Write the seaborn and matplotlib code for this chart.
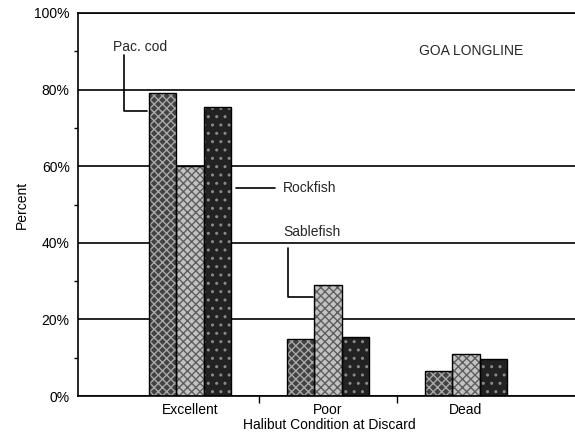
import matplotlib
matplotlib.use("Agg")
import matplotlib.pyplot as plt
import seaborn as sns
import pandas as pd
from matplotlib.ticker import FixedLocator, PercentFormatter

# Halibut discard condition by target fishery, GOA longline
conditions = ["Excellent", "Poor", "Dead"]
species = ["Pac. cod", "Sablefish", "Rockfish"]
pac_cod = [79.0, 15.0, 6.5]
sablefish = [60.0, 29.0, 11.0]
rockfish = [75.5, 15.3, 9.7]

df = pd.DataFrame({
    "Condition": conditions * 3,
    "Species": [s for s in species for _ in conditions],
    "Percent": pac_cod + sablefish + rockfish,
})

sns.set_theme(style="white")
plt.rcParams["font.family"] = ["Liberation Sans", "DejaVu Sans"]
plt.rcParams["hatch.linewidth"] = 1.0

fig = plt.figure(figsize=(5.75, 4.43), dpi=100)
ax = fig.add_axes([78 / 575, 47 / 443, 497 / 575, 383 / 443])

face = {"Pac. cod": "#424242", "Sablefish": "#c2c2c2", "Rockfish": "#222222"}
hatch_style = {"Pac. cod": ("xxxx", "#a8a8a8"),
               "Sablefish": ("xxxx", "#5e5e5e"),
               "Rockfish": ("..", "#8a8a8a")}

sns.barplot(data=df, x="Condition", y="Percent", hue="Species",
            order=conditions, hue_order=species, palette=face,
            width=0.6, saturation=1, linewidth=0, errorbar=None,
            legend=False, ax=ax, zorder=2)

for sp, cont in zip(species, ax.containers):
    pattern, hcol = hatch_style[sp]
    for bar in cont:
        bar.set_hatch(pattern)
        bar.set_edgecolor(hcol)
        bar.set_linewidth(0)

# black outlines on top of the patterned bars
sns.barplot(data=df, x="Condition", y="Percent", hue="Species",
            order=conditions, hue_order=species,
            palette={s: "black" for s in species}, fill=False,
            width=0.6, linewidth=1.0, errorbar=None,
            legend=False, ax=ax, zorder=3)

ax.set_xlim(-0.812, 2.79)
ax.set_ylim(0, 100)

for side in ["left", "bottom", "top"]:
    ax.spines[side].set_visible(True)
    ax.spines[side].set_color("black")
    ax.spines[side].set_linewidth(1.2)
ax.spines["right"].set_visible(False)

ax.yaxis.set_major_locator(FixedLocator([0, 20, 40, 60, 80, 100]))
ax.yaxis.set_minor_locator(FixedLocator([10, 30, 50, 70, 90]))
ax.yaxis.set_major_formatter(PercentFormatter(decimals=0))
ax.yaxis.grid(True, which="major", color="black", linewidth=1.2)
ax.set_axisbelow(True)

ax.xaxis.set_minor_locator(FixedLocator([0.5, 1.5]))
ax.tick_params(axis="y", which="major", direction="out", length=5,
               width=1, color="black", labelsize=10, pad=1)
ax.tick_params(axis="y", which="minor", direction="out", length=3,
               width=1, color="black", left=True)
ax.tick_params(axis="x", which="major", length=0, labelsize=10, pad=5)
ax.tick_params(axis="x", which="minor", direction="out", length=5,
               width=1, color="black", bottom=True)
for lab in ax.get_xticklabels() + ax.get_yticklabels():
    lab.set_color("black")

ax.set_xlabel("Halibut Condition at Discard", fontsize=10, color="black")
ax.set_ylabel("Percent", fontsize=10, color="black")
ax.xaxis.set_label_coords(0.505, -0.057)
ax.yaxis.set_label_coords(-0.113, 0.5)
ax.yaxis.label.set_va("center")

# callouts naming each fishery
kw = dict(color="black", linewidth=1.2, clip_on=False, zorder=4)
cod_bar = ax.containers[0][0]
ax.plot([-0.478, -0.478, cod_bar.get_x() - 0.015], [89.0, 74.4, 74.4], **kw)
ax.text(-0.558, 91.1, "Pac. cod", fontsize=10, va="center", ha="left")

rock_bar = ax.containers[2][0]
ax.plot([rock_bar.get_x() + rock_bar.get_width() + 0.03, 0.616], [54.3, 54.3], **kw)
ax.text(0.674, 54.3, "Rockfish", fontsize=10, va="center", ha="left")

sable_bar = ax.containers[1][1]
ax.plot([0.71, 0.71, sable_bar.get_x() - 0.01], [38.6, 25.8, 25.8], **kw)
ax.text(0.674, 42.8, "Sablefish", fontsize=10, va="center", ha="left")

ax.text(1.659, 90.1, "GOA LONGLINE", fontsize=10, va="center", ha="left")

fig.savefig("out.png", dpi=100)
